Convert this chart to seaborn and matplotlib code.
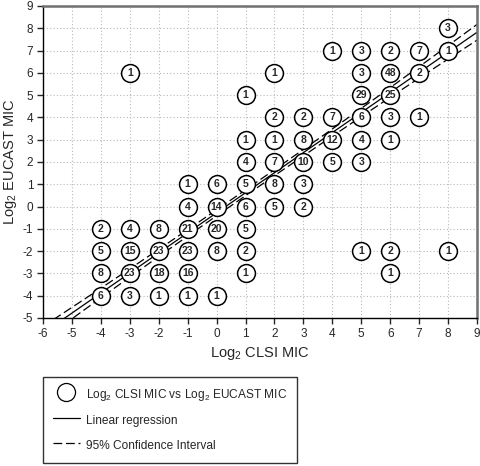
import numpy as np
import pandas as pd
import matplotlib
matplotlib.use("Agg")
import matplotlib.pyplot as plt
import seaborn as sns
from matplotlib.lines import Line2D

# Log2 MIC pairs (CLSI, EUCAST) and number of isolates at each
clsi = [8,
        4, 5, 6, 7, 8,
        -3, 2, 5, 6, 7,
        1, 5, 6,
        2, 3, 4, 5, 6, 7,
        1, 2, 3, 4, 5, 6,
        1, 2, 3, 4, 5,
        -1, 0, 1, 2, 3,
        -1, 0, 1, 2, 3,
        -4, -3, -2, -1, 0, 1,
        -4, -3, -2, -1, 0, 1, 5, 6, 8,
        -4, -3, -2, -1, 1, 6,
        -4, -3, -2, -1, 0]
eucast = [8,
          7, 7, 7, 7, 7,
          6, 6, 6, 6, 6,
          5, 5, 5,
          4, 4, 4, 4, 4, 4,
          3, 3, 3, 3, 3, 3,
          2, 2, 2, 2, 2,
          1, 1, 1, 1, 1,
          0, 0, 0, 0, 0,
          -1, -1, -1, -1, -1, -1,
          -2, -2, -2, -2, -2, -2, -2, -2, -2,
          -3, -3, -3, -3, -3, -3,
          -4, -4, -4, -4, -4]
counts = [3,
          1, 3, 2, 7, 1,
          1, 1, 3, 48, 2,
          1, 29, 25,
          2, 2, 7, 6, 3, 1,
          1, 1, 8, 12, 4, 1,
          4, 7, 10, 5, 3,
          1, 6, 5, 8, 3,
          4, 14, 6, 5, 2,
          2, 4, 8, 21, 20, 5,
          5, 15, 23, 23, 8, 2, 1, 2, 1,
          8, 23, 18, 16, 1, 1,
          6, 3, 1, 1, 1]

# regression line and 95% CI
slope = 0.90
intercept = -0.28
ci_center = 0.13
ci_end = 0.30

df = pd.DataFrame({"clsi": clsi, "eucast": eucast, "n": counts})

sns.set_style("white")
plt.rcParams["font.family"] = ["Liberation Sans", "DejaVu Sans"]
plt.rcParams["mathtext.fontset"] = "custom"
plt.rcParams["mathtext.rm"] = "Liberation Sans"
plt.rcParams["mathtext.it"] = "Liberation Sans"
plt.rcParams["axes.unicode_minus"] = False

fig = plt.figure(figsize=(4.8, 4.66), dpi=100)
ax = fig.add_axes([43 / 480, 1 - 318 / 466, 434 / 480, 312 / 466])

# regression line + CI band edges
xs = np.linspace(-6, 9, 200)
fit = intercept + slope * xs
xm = 1.0
half = ci_center + (ci_end - ci_center) * ((xs - xm) / 7.0) ** 2
lines = pd.DataFrame({"x": xs, "fit": fit, "lo": fit - half, "hi": fit + half})
sns.lineplot(data=lines, x="x", y="fit", ax=ax, color="black", lw=0.9, zorder=2)
sns.lineplot(data=lines, x="x", y="lo", ax=ax, color="black", lw=0.9,
             dashes=(7, 3), zorder=2)
sns.lineplot(data=lines, x="x", y="hi", ax=ax, color="black", lw=0.9,
             dashes=(7, 3), zorder=2)

sns.scatterplot(data=df, x="clsi", y="eucast", ax=ax, s=165, marker="o",
                facecolor="white", edgecolor="black", linewidth=1.1, zorder=3)
for cx, cy, n in zip(clsi, eucast, counts):
    ax.text(cx, cy, str(n), ha="center", va="center", fontsize=7.5,
            fontweight="bold", zorder=4)

ax.set_xlim(-6, 9)
ax.set_ylim(-5, 9)
ax.set_xticks(range(-6, 10))
ax.set_yticks(range(-5, 10))
ax.grid(True, linestyle=(0, (1, 2)), color="#b8b8b8", linewidth=0.8)
ax.tick_params(axis="both", direction="out", length=4, width=1, labelsize=8.5,
               left=True, bottom=True, pad=3)
for side in ["left", "bottom"]:
    ax.spines[side].set_color("black")
    ax.spines[side].set_linewidth(1.0)
for side in ["top", "right"]:
    ax.spines[side].set_color("#707070")
    ax.spines[side].set_linewidth(1.8)

ax.set_xlabel("Log$_2$ CLSI MIC", fontsize=10.5, labelpad=4)
ax.set_ylabel("Log$_2$ EUCAST MIC", fontsize=10.5, labelpad=3)

handles = [
    Line2D([], [], marker="o", ls="none", markersize=13, markerfacecolor="white",
           markeredgecolor="black", markeredgewidth=0.9),
    Line2D([], [], color="black", lw=0.9),
    Line2D([], [], color="black", lw=0.9, dashes=(7, 3)),
]
labels = ["Log$_2$ CLSI MIC vs Log$_2$ EUCAST MIC", "Linear regression",
          "95% Confidence Interval"]
leg = fig.legend(handles, labels, loc="upper left",
                 bbox_to_anchor=(43 / 480, 1 - 377 / 466), borderaxespad=0,
                 fontsize=8.6, frameon=True, fancybox=False, shadow=False,
                 edgecolor="black", handlelength=2.3, handleheight=1.6,
                 borderpad=0.8, labelspacing=0.8, handletextpad=0.5)
leg.get_frame().set_linewidth(1.0)

fig.savefig("out.png", dpi=100)
